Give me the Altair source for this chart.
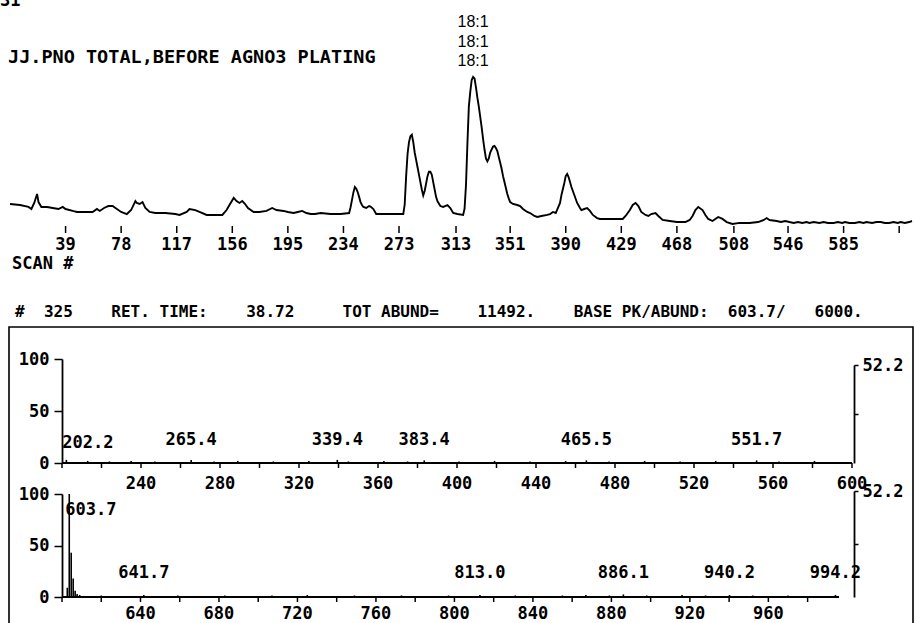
import altair as alt
import pandas as pd

W, H = 915, 623
FONT = "DejaVu Sans Mono"
NBSP = "\u00a0"

# ---------------- data ----------------
# total ion chromatogram (scan number vs relative abundance, % of largest peak)
scan = [0, 7, 13, 15, 17, 19, 20, 22, 26, 30,
        34, 37, 39, 44, 47, 53, 58, 61, 63, 66,
        69, 72, 74, 78, 82, 85, 88, 89, 91, 92,
        93, 95, 98, 102, 109, 116, 119, 124, 126, 130,
        133, 138, 144, 149, 152, 154, 157, 159, 161, 163,
        165, 167, 171, 175, 180, 184, 187, 192, 195, 199,
        202, 205, 208, 211, 214, 218, 225, 232, 238, 239,
        240, 241, 242, 243, 244, 245, 246, 247, 248, 250,
        252, 253, 255, 257, 263, 270, 276, 277, 278, 279,
        280, 281, 282, 283, 284, 285, 286, 287, 288, 289,
        290, 291, 292, 293, 294, 295, 296, 297, 298, 299,
        300, 302, 304, 307, 309, 311, 314, 318, 319, 320,
        321, 322, 323, 324, 325, 326, 327, 328, 329, 330,
        331, 332, 333, 334, 335, 336, 337, 338, 339, 340,
        341, 342, 343, 344, 345, 346, 347, 348, 349, 350,
        351, 353, 356, 358, 360, 363, 365, 368, 370, 373,
        377, 379, 381, 383, 386, 387, 389, 390, 391, 392,
        394, 396, 398, 400, 401, 403, 405, 407, 409, 412,
        414, 421, 427, 430, 432, 435, 437, 439, 441, 443,
        446, 448, 450, 453, 455, 458, 463, 468, 474, 477,
        479, 481, 483, 486, 488, 490, 493, 495, 497, 500,
        503, 507, 512, 519, 525, 529, 531, 533, 538, 541,
        544, 547, 550, 553, 556, 559, 561, 564, 568, 571,
        574, 578, 581, 584, 586, 589, 593, 596, 599, 601,
        605, 608, 611, 614, 617, 620, 623, 625, 628, 631, 633]
abund = [14.2, 13.5, 12.2, 10.8, 14.9, 21.0, 15.5, 12.2, 12.2, 11.5,
         10.8, 12.2, 10.8, 9.5, 8.8, 8.8, 8.8, 10.8, 9.5, 11.5,
         12.8, 12.8, 11.5, 8.8, 7.4, 10.1, 16.2, 14.9, 14.2, 14.9,
         15.5, 11.5, 8.8, 8.1, 8.1, 7.4, 6.8, 8.8, 10.8, 10.1,
         8.8, 6.8, 6.8, 6.8, 10.1, 13.5, 18.3, 16.2, 14.9, 16.2,
         14.2, 11.5, 8.8, 8.8, 9.5, 11.5, 10.1, 9.5, 8.8, 8.1,
         8.8, 9.5, 8.1, 7.4, 7.4, 8.1, 7.4, 7.4, 8.1, 12.0,
         17.0, 22.0, 25.7, 24.5, 22.3, 19.0, 15.5, 13.5, 12.2, 11.5,
         12.8, 12.5, 10.8, 7.4, 7.4, 7.4, 7.4, 14.0, 33.0, 48.0,
         56.0, 60.0, 61.0, 56.0, 49.0, 44.0, 39.0, 34.0, 29.0, 24.0,
         20.0, 23.0, 28.0, 33.0, 36.0, 36.0, 34.0, 29.0, 24.0, 19.0,
         16.0, 12.8, 12.2, 13.5, 11.5, 8.1, 7.4, 6.8, 11.0, 27.0,
         55.0, 80.0, 90.0, 98.0, 100.0, 99.0, 93.0, 86.0, 80.0, 73.0,
         66.0, 58.0, 51.0, 45.0, 43.0, 45.0, 49.0, 51.0, 53.0, 53.4,
         52.0, 50.0, 46.0, 42.0, 38.0, 33.0, 29.0, 25.0, 21.0, 18.0,
         15.5, 14.2, 13.5, 12.8, 10.8, 8.8, 8.1, 6.1, 5.4, 6.1,
         6.8, 7.4, 8.8, 8.1, 14.9, 20.3, 28.4, 33.1, 34.5, 32.4,
         25.7, 20.3, 14.9, 11.5, 10.1, 10.8, 11.5, 9.5, 6.8, 4.7,
         4.1, 4.1, 4.1, 4.1, 6.1, 10.1, 13.5, 14.9, 12.8, 8.8,
         6.8, 6.1, 7.4, 8.1, 6.1, 3.4, 2.7, 2.0, 2.0, 3.4,
         6.1, 10.1, 12.2, 10.1, 6.8, 4.1, 2.7, 4.1, 5.4, 4.1,
         2.0, 0.7, 1.4, 1.4, 2.0, 3.4, 4.7, 3.4, 2.7, 2.0,
         2.7, 2.0, 1.4, 2.0, 1.4, 2.0, 1.4, 2.0, 1.4, 2.0,
         1.4, 1.4, 2.0, 1.4, 2.0, 1.4, 1.4, 2.0, 1.4, 2.0,
         1.4, 2.0, 2.0, 1.4, 1.4, 2.0, 1.4, 2.0, 1.4, 2.0, 2.7]
scan_ticks = [39, 78, 117, 156, 195, 234, 273, 313, 351, 390, 429, 468, 508, 546, 585, 624]
scan_tick_labels = ["39", "78", "117", "156", "195", "234", "273", "313", "351",
                    "390", "429", "468", "508", "546", "585", ""]
peak_scan = 325
peak_note = ["18:1", "18:1", "18:1"]

# mass spectrum of scan 325, m/z 200-600 (% of base peak)
spec1_mz = [202.2, 207, 213, 219, 224, 229, 235, 241, 247, 252,
            258, 265.4, 271, 277, 283, 289, 295, 301, 307, 313,
            319, 325, 331, 339.4, 345, 351, 357, 363, 369, 375,
            383.4, 389, 395, 401, 407, 413, 419, 425, 431, 437,
            443, 449, 455, 460, 465.5, 471, 477, 483, 489, 495,
            501, 507, 513, 519, 525, 531, 537, 543, 551.7, 557,
            563, 569, 575, 581, 587, 593]
spec1_ab = [3, 1, 2, 1, 1.5, 1, 2, 1, 1.5, 1,
            1, 3, 1, 1.5, 1, 2, 1, 1, 1.5, 1,
            1, 2, 1, 3, 1.5, 1, 1, 2, 1, 1.5,
            2.5, 1, 1, 1.5, 1, 1, 2, 1, 1, 1.5,
            1, 1, 2, 1, 2.5, 1, 1.5, 1, 1, 2,
            1, 1, 1.5, 1, 1, 2, 1, 1, 2.5, 1,
            1.5, 1, 1, 2, 1, 1]
spec1_labels = ["202.2", "265.4", "339.4", "383.4", "465.5", "551.7"]
spec1_label_mz = [202.2, 265.4, 339.4, 383.4, 465.5, 551.7]
spec1_ticks = list(range(200, 601, 20))
spec1_range = [200, 600]

# m/z 600-1000
spec2_mz = [602.7, 603.7, 604.7, 605.7, 606.7, 607.7, 609, 614, 620, 626,
            632, 641.7, 647, 653, 659, 665, 671, 677, 683, 689,
            695, 701, 707, 713, 719, 725, 731, 737, 743, 749,
            755, 761, 767, 773, 779, 785, 791, 797, 803, 813.0,
            819, 825, 831, 837, 843, 849, 855, 861, 867, 873,
            879, 886.1, 892, 898, 904, 910, 916, 922, 928, 934,
            940.2, 946, 952, 958, 964, 970, 976, 982, 988, 994.2]
spec2_ab = [9, 100, 43, 18, 6, 3, 2, 1, 1.5, 1,
            1, 2, 1, 1, 1.5, 1, 1, 1, 1.5, 1,
            1, 1, 1.5, 1, 1, 2, 1, 1, 1, 1.5,
            1, 1, 1, 1.5, 1, 1, 1, 1.5, 1, 2,
            1, 1, 1.5, 1, 1, 1, 1.5, 1, 2, 1,
            1.5, 2.5, 1, 1.5, 1, 1, 2, 1, 1.5, 1,
            2, 1, 1.5, 1, 1, 1.5, 1, 1, 1, 2]
spec2_labels = ["603.7", "641.7", "813.0", "886.1", "940.2", "994.2"]
spec2_label_mz = [603.7, 641.7, 813.0, 886.1, 940.2, 994.2]
spec2_ticks = list(range(600, 981, 20))
spec2_range = [600, 996]

right_scale_max = 52.2
title_text = "JJ.PNO TOTAL,BEFORE AGNO3 PLATING"
scan_title = "SCAN #"
header_parts = ["#", "325", "RET.", "TIME:", "38.72", "TOT", "ABUND=",
                "11492.", "BASE", "PK/ABUND:", "603.7/", "6000."]
header_gaps = [2, 4, 1, 4, 5, 1, 4, 4, 1, 2, 3, 0]
header = "".join(p + NBSP * g for p, g in zip(header_parts, header_gaps))

# ---------------- helpers ----------------
def lin(domain, rng):
    return alt.Scale(domain=domain, range=rng, nice=False, zero=False)

TXT = dict(font=FONT, fontWeight="bold", color="black")

def static_text(txt, x, y, size, baseline="middle"):
    return alt.Chart(pd.DataFrame({"t": [txt]})).mark_text(
        align="left", baseline=baseline, fontSize=size, **TXT
    ).encode(text="t:N", x=alt.value(x), y=alt.value(y))

# ---------------- chromatogram ----------------
cx = lin([0, 633.7], [10, 913])
cy = lin([0, 100], [225, 77])
chrom_df = pd.DataFrame({"scan": scan, "abund": abund})
chrom_line = alt.Chart(chrom_df).mark_line(color="black", strokeWidth=1.9).encode(
    x=alt.X("scan:Q", scale=cx, axis=None),
    y=alt.Y("abund:Q", scale=cy, axis=None),
)
peak_df = pd.DataFrame({"scan": [peak_scan],
                        "abund": [chrom_df.loc[chrom_df.scan == peak_scan, "abund"].iloc[0]]})
chrom_note = alt.Chart(peak_df).mark_text(
    text=peak_note, baseline="bottom", dy=-47, lineHeight=19.5, fontSize=16,
    font="Liberation Sans", color="black"
).encode(x=alt.X("scan:Q", scale=cx, axis=None), y=alt.Y("abund:Q", scale=cy, axis=None))
tick_df = pd.DataFrame({"t": scan_ticks, "lab": scan_tick_labels})
chrom_ticks = alt.Chart(tick_df).mark_rule(color="black", strokeWidth=1.5, yOffset=1, y2Offset=8).encode(
    x=alt.X("t:Q", scale=cx, axis=None), y=alt.datum(0), y2=alt.datum(0))
chrom_tick_labels = alt.Chart(tick_df).mark_text(baseline="middle", dy=20, fontSize=17, **TXT).encode(
    x=alt.X("t:Q", scale=cx, axis=None), y=alt.datum(0), text="lab:N")
chrom = alt.layer(chrom_line, chrom_note, chrom_ticks, chrom_tick_labels)

# ---------------- spectrum panels ----------------
def spectrum(mz, ab, labels, label_mz, ticks, xdom, xrng, y0, y100, label_level,
             first_level, lab_dy, right_top, right_x):
    sx = lin(xdom, xrng)
    sy = lin([0, 100], [y0, y100])
    df = pd.DataFrame({"mz": mz, "ab": ab})
    bars = alt.Chart(df).mark_rule(color="black", strokeWidth=1.6).encode(
        x=alt.X("mz:Q", scale=sx, axis=None),
        y=alt.Y("ab:Q", scale=sy, axis=alt.Axis(
            orient="left", offset=-xrng[0], values=[0, 50, 100],
            tickSize=8, labelPadding=5, domain=True, title=None)),
        y2=alt.datum(0),
    )
    base = alt.Chart(pd.DataFrame({"a": [xdom[0]], "b": [xdom[1]]})).mark_rule(
        color="black", strokeWidth=1.8).encode(
        x=alt.X("a:Q", scale=sx, axis=None), x2="b:Q", y=alt.datum(0))
    tdf = pd.DataFrame({"t": ticks})
    tdf["lab"] = [str(t) if (t % 40 == 0 and t > xdom[0]) else "" for t in ticks]
    xticks = alt.Chart(tdf).mark_rule(color="black", strokeWidth=1.5, y2Offset=5).encode(
        x=alt.X("t:Q", scale=sx, axis=None), y=alt.datum(0), y2=alt.datum(0))
    xlabels = alt.Chart(tdf).mark_text(baseline="middle", dy=lab_dy, fontSize=17, **TXT).encode(
        x=alt.X("t:Q", scale=sx, axis=None), y=alt.datum(0), text="lab:N")
    ldf = pd.DataFrame({"mz": label_mz, "label": labels})
    first = alt.Chart(ldf.iloc[:1]).mark_text(align="left", baseline="middle", dx=-4,
                                               fontSize=17, **TXT).encode(
        x=alt.X("mz:Q", scale=sx, axis=None), y=alt.datum(first_level), text="label:N")
    rest = alt.Chart(ldf.iloc[1:]).mark_text(align="center", baseline="middle",
                                              fontSize=17, **TXT).encode(
        x=alt.X("mz:Q", scale=sx, axis=None), y=alt.datum(label_level), text="label:N")
    panel = alt.layer(bars, base, xticks, xlabels, first, rest)
    ry = lin([0, right_scale_max], [y0, right_top])
    right = alt.Chart(pd.DataFrame({"pct": [right_scale_max]})).mark_point(opacity=0).encode(
        y=alt.Y("pct:Q", scale=ry, axis=alt.Axis(
            orient="right", offset=right_x - W, values=[right_scale_max / 2, right_scale_max],
            labelExpr=f"datum.value > {right_scale_max / 2 + 1} ? '{right_scale_max}' : ''",
            tickSize=4, labelPadding=4, domain=True, title=None)))
    return panel, right

spec1, right1 = spectrum(spec1_mz, spec1_ab, spec1_labels, spec1_label_mz, spec1_ticks,
                         spec1_range, [62, 852], 463, 359, 22, 19, 21, 365, 854)
spec2, right2 = spectrum(spec2_mz, spec2_ab, spec2_labels, spec2_label_mz, spec2_ticks,
                         spec2_range, [62, 839], 597, 494, 23.5, 84, 17, 491, 854)

# ---------------- frame and page text ----------------
frame = alt.Chart(pd.DataFrame({"a": [0]})).mark_rect(
    fillOpacity=0, stroke="black", strokeWidth=1.6
).encode(x=alt.value(9), x2=alt.value(913), y=alt.value(327), y2=alt.value(700))

page = alt.layer(
    static_text("31", 0, 6, 17, baseline="alphabetic"),
    static_text(title_text, 8, 57, 18.5),
    static_text(scan_title, 12, 264, 17),
    static_text(header, 15, 312, 16),
)

chart = alt.layer(frame, chrom, spec1, right1, spec2, right2, page).resolve_scale(
    x="independent", y="independent"
).resolve_axis(
    x="independent", y="independent"
).properties(
    width=W, height=H, autosize=alt.AutoSizeParams(type="none"), padding=0
).configure(background="white").configure_view(strokeWidth=0).configure_axis(
    labelFont=FONT, labelFontSize=17, labelFontWeight="bold", labelColor="black",
    titleFont=FONT, titleFontSize=17, titleFontWeight="bold", titleColor="black",
    tickColor="black", domainColor="black", tickWidth=1.5, domainWidth=1.8,
    labelOverlap=False, labelFlush=False, grid=False,
)

chart.save("out.html", embed_options={"renderer": "svg", "actions": False})
